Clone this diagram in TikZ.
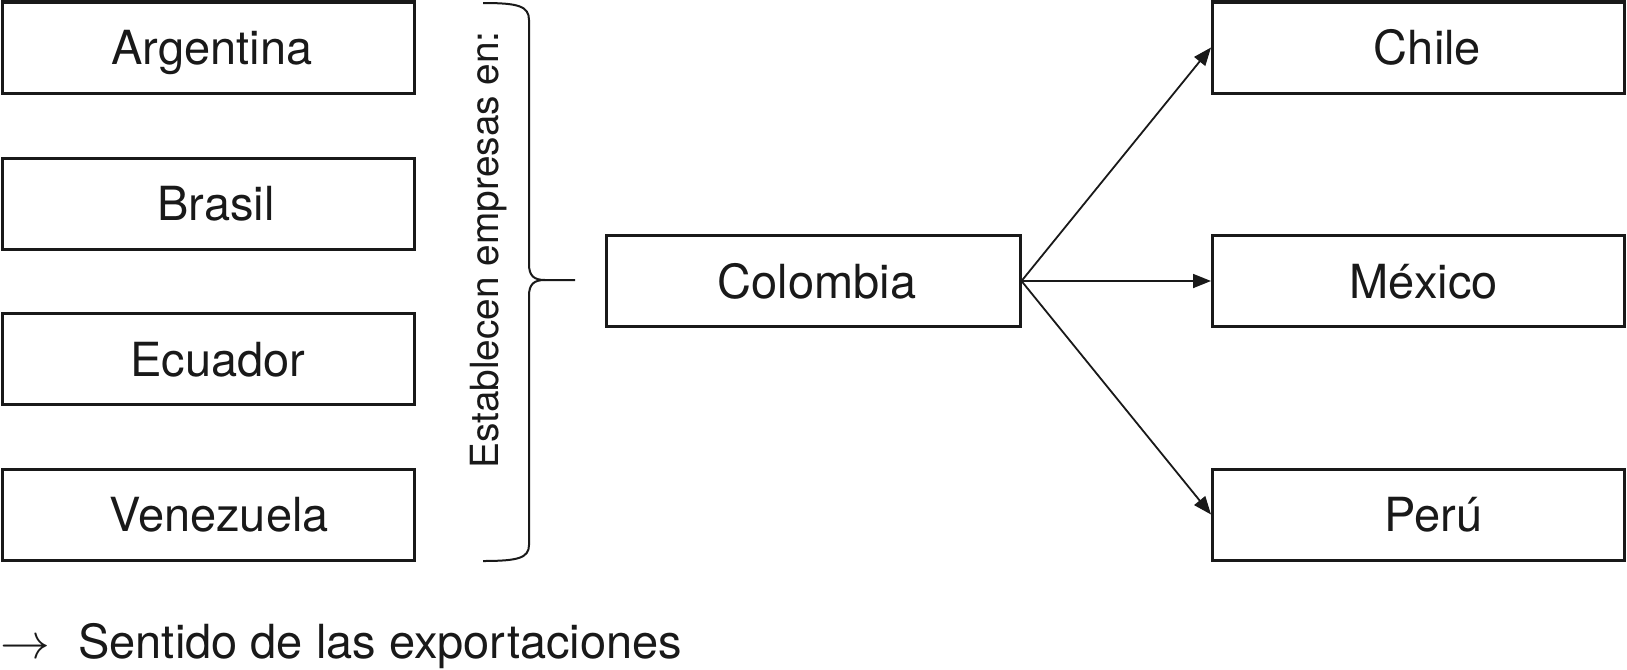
\documentclass[tikz,border=0pt]{standalone}
\usepackage{fontspec}
\setmainfont{TeX Gyre Heros}
\usetikzlibrary{arrows.meta}
\begin{document}
\begin{tikzpicture}[x=0.5pt,y=-0.5pt,
  box/.style={draw=black!90, line width=1.5pt, minimum width=206pt, minimum height=45.5pt,
    inner sep=0pt, text height=17pt, text depth=0pt, text=black!90,
    font=\fontsize{23.5}{28}\selectfont},
  conn/.style={draw=black!90, line width=0.9pt, -{Triangle[length=9pt,width=7pt]}},
  bracestyle/.style={draw=black!90, line width=1pt},
]
\useasboundingbox (0,0) rectangle (1627,669);
% left boxes
\node[box] (arg) at (208,47.5) {\hspace*{4pt}Argentina};
\node[box] (bra) at (208,203.5) {\hspace*{8pt}Brasil};
\node[box] (ecu) at (208,359) {\hspace*{10pt}Ecuador};
\node[box] (ven) at (208,514.5) {\hspace*{11pt}Venezuela};
% central box
\node[box, minimum width=207pt] (col) at (813,281) {\hspace*{4pt}Colombia};
% right boxes
\node[box] (chi) at (1418.5,47.5) {\hspace*{9pt}Chile};
\node[box] (mex) at (1418.5,281) {\hspace*{5pt}México};
\node[box] (per) at (1418.5,514.5) {\hspace*{15pt}Perú};
% label
\node[rotate=90, inner sep=0pt, text=black!90, font=\fontsize{19.4}{23}\selectfont] (lbl) at (489,250) {Establecen empresas en:};
% brace
\coordinate (btip) at (575,280);
\draw[bracestyle] (483,3) .. controls (518,3) and (529,6) .. (529,20) -- (529,264)
  .. controls (529,276) and (534,280) .. (545,280) -- (btip);
\draw[bracestyle] (545,280) .. controls (534,280) and (529,284) .. (529,296) -- (529,545)
  .. controls (529,558) and (518,561) .. (483,561);
% arrows
\draw[conn] (col.east) -- (chi.west);
\draw[conn] (col.east) -- (mex.west);
\draw[conn] (col.east) -- (per.west);
% legend
\node[anchor=base west, inner sep=0pt, text=black!90, font=\fontsize{23.5}{28}\selectfont] (leg) at (0,658) {$\rightarrow$\hspace{0.6em}Sentido de las exportaciones};
\end{tikzpicture}
\end{document}
